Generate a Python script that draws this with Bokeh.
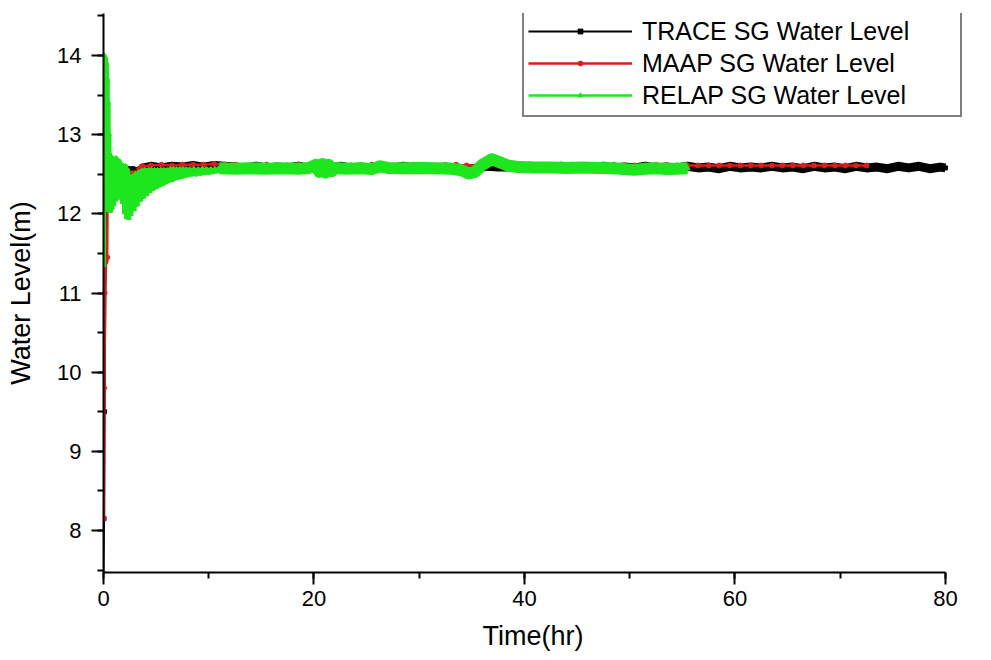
from bokeh.plotting import figure
from bokeh.models import Range1d, SingleIntervalTicker, Legend, LegendItem
from bokeh.embed import file_html
from bokeh.resources import INLINE

# ---------------- data ----------------
X_TICK_INTERVAL = 20
Y_TICK_INTERVAL = 1
X_AXIS_BOUNDS = (0, 80)
Y_AXIS_BOUNDS = (7.47, 14.53)

# TRACE SG water level (black)
TRACE_T = [0, 0.05, 0.1, 0.2, 0.3, 0.45, 0.7, 1.0, 1.5, 2.0, 2.4, 2.8, 3.2,
           3.5, 4.5, 5.5, 6.5, 7.5, 8.5, 9.5, 10.5, 11.5, 12.5,
           13.5, 14.5, 15.5, 16.5, 17.5, 18.5, 19.5, 20.5, 21.5, 22.5,
           23.5, 24.5, 25.5, 26.5, 27.5, 28.5, 29.5, 30.5, 31.5, 32.5,
           33.5, 34.5, 35.5, 36.5, 37.5, 38.5, 39.5, 40.5, 41.5, 42.5,
           43.5, 44.5, 45.5, 46.5, 47.5, 48.5, 49.5, 50.5, 51.5, 52.5,
           53.5, 54.5, 55.5, 56.5, 57.5, 58.5, 59.5, 60.5, 61.5, 62.5,
           63.5, 64.5, 65.5, 66.5, 67.5, 68.5, 69.5, 70.5, 71.5, 72.5,
           73.5, 74.5, 75.5, 76.5, 77.5, 78.5, 79.5, 80.0]
TRACE_Y = [7.45, 8.15, 9.5, 11.4, 12.4, 12.55, 12.62, 12.5, 12.58, 12.55, 12.57, 12.57, 12.56,
           12.57, 12.60, 12.58, 12.60, 12.59, 12.61, 12.59, 12.61, 12.60, 12.59,
           12.58, 12.60, 12.58, 12.59, 12.58, 12.60, 12.58, 12.59, 12.57, 12.60,
           12.58, 12.59, 12.57, 12.59, 12.58, 12.60, 12.58, 12.59, 12.58, 12.59,
           12.58, 12.56, 12.58, 12.60, 12.59, 12.59, 12.58, 12.60, 12.59, 12.58,
           12.60, 12.58, 12.59, 12.58, 12.60, 12.58, 12.59, 12.58, 12.60, 12.58,
           12.59, 12.58, 12.60, 12.58, 12.59, 12.57, 12.60, 12.58, 12.59, 12.58,
           12.60, 12.58, 12.59, 12.57, 12.60, 12.58, 12.59, 12.57, 12.60, 12.58,
           12.59, 12.57, 12.60, 12.58, 12.60, 12.57, 12.59, 12.58]

# MAAP SG water level (red)
MAAP_T = [0, 0.05, 0.1, 0.2, 0.35, 0.4, 0.5, 0.8, 1.2, 1.6, 2.0, 2.35, 2.45, 2.6,
          2.8, 3.0, 3.2, 3.4, 3.7,
          4.5, 5.5, 6.5, 7.5, 8.5, 9.5, 10.5, 11.5, 12.5, 13.5,
          14.5, 15.5, 16.5, 17.5, 18.5, 19.5, 20.5, 21.5, 22.5, 23.5,
          24.5, 25.5, 26.5, 27.5, 28.5, 29.5, 30.5, 31.5, 32.5, 33.5,
          34.5, 35.5, 36.5, 37.5, 38.5, 39.5, 40.5, 41.5, 42.5, 43.5,
          44.5, 45.5, 46.5, 47.5, 48.5, 49.5, 50.5, 51.5, 52.5, 53.5,
          54.5, 55.5, 56.5, 57.5, 58.5, 59.5, 60.5, 61.5, 62.5, 63.5,
          64.5, 65.5, 66.5, 67.5, 68.5, 69.5, 70.5, 71.5, 72.5]
MAAP_Y = [8.15, 9.8, 11.0, 11.4, 11.45, 12.4, 12.55, 12.6, 12.6, 12.58, 12.56, 12.52, 12.38, 12.5,
          12.46, 12.52, 12.5, 12.57, 12.6,
          12.61, 12.62, 12.61, 12.62, 12.62, 12.62, 12.63, 12.62, 12.62, 12.61,
          12.61, 12.62, 12.61, 12.61, 12.62, 12.61, 12.61, 12.62, 12.61, 12.61,
          12.61, 12.62, 12.61, 12.61, 12.61, 12.62, 12.61, 12.61, 12.61, 12.62,
          12.61, 12.61, 12.62, 12.61, 12.61, 12.61, 12.62, 12.61, 12.61, 12.61,
          12.62, 12.61, 12.61, 12.61, 12.62, 12.61, 12.61, 12.61, 12.62, 12.61,
          12.61, 12.61, 12.61, 12.61, 12.61, 12.61, 12.61, 12.61, 12.61, 12.61,
          12.61, 12.61, 12.61, 12.61, 12.61, 12.61, 12.61, 12.61, 12.61]

# RELAP SG water level (green)
RELAP_T = [0.00, 0.04, 0.08, 0.12, 0.16, 0.20, 0.24, 0.28, 0.32, 0.36,
           0.40, 0.44, 0.48, 0.52, 0.56, 0.60, 0.66, 0.72, 0.80, 0.88,
           0.96, 1.04, 1.12, 1.20, 1.28, 1.36, 1.44, 1.52, 1.60, 1.70,
           1.80, 1.90, 2.00, 2.10, 2.20, 2.30, 2.40, 2.50,
           2.60, 2.75, 2.90, 3.05, 3.20, 3.35, 3.50, 3.65, 3.80, 3.95,
           4.10, 4.25, 4.40, 4.55, 4.70, 4.85, 5.00, 5.15, 5.30, 5.45,
           5.60, 5.75, 5.90, 6.05, 6.20, 6.35, 6.50, 6.65, 6.80, 6.95,
           7.10, 7.25, 7.40, 7.55, 7.70, 7.85, 8.00, 8.20, 8.40, 8.60,
           8.80, 9.00, 9.20, 9.40, 9.60, 9.80, 10.0, 10.2, 10.4, 10.6, 10.8,
           11.0, 12.5, 14.0, 15.5, 17.0, 18.5, 19.5,
           20.2, 20.5, 20.8, 21.1, 21.4, 21.7, 22.0,
           23.0, 24.5, 25.5, 26.3, 27.0, 28.5, 30.0, 31.5, 33.0,
           34.0, 34.7, 35.3, 36.0, 36.9, 37.5, 38.4, 39.5,
           41.0, 42.5, 44.0, 45.5, 47.0, 48.5, 50.4, 51.5, 52.5, 53.5, 54.5, 55.5]
RELAP_Y = [11.35, 14.00, 12.30, 13.98, 12.20, 13.96, 12.25, 13.90, 12.10, 13.70,
           12.15, 13.40, 12.05, 13.00, 12.10, 12.75, 12.04, 12.68, 12.08, 12.70,
           12.12, 12.66, 12.18, 12.70, 12.20, 12.64, 12.22, 12.66, 12.25, 12.62,
           12.15, 12.60, 12.02, 12.60, 11.96, 12.55, 11.95, 12.45,
           12.00, 12.47, 12.06, 12.50, 12.12, 12.52, 12.18, 12.54, 12.22, 12.55,
           12.25, 12.55, 12.29, 12.55, 12.32, 12.55, 12.34, 12.55, 12.36, 12.55,
           12.38, 12.55, 12.40, 12.55, 12.42, 12.56, 12.43, 12.56, 12.45, 12.56,
           12.46, 12.56, 12.47, 12.56, 12.48, 12.56, 12.49, 12.56, 12.50, 12.56,
           12.50, 12.56, 12.51, 12.56, 12.52, 12.56, 12.52, 12.56, 12.53, 12.56, 12.54,
           12.575, 12.57, 12.575, 12.57, 12.575, 12.57, 12.58,
           12.62, 12.53, 12.63, 12.52, 12.62, 12.54, 12.58,
           12.57, 12.575, 12.565, 12.60, 12.58, 12.575, 12.58, 12.575, 12.57,
           12.55, 12.51, 12.53, 12.62, 12.69, 12.66, 12.61, 12.59,
           12.585, 12.585, 12.58, 12.585, 12.58, 12.575, 12.555, 12.57, 12.575, 12.565, 12.57, 12.575]

LABELS = ["TRACE SG Water Level", "MAAP SG Water Level", "RELAP SG Water Level"]
COLORS = ["#000000", "#dd1c1c", "#1ee61e"]

FONT = "Liberation Sans"

# ---------------- figure ----------------
# frame: 103..962 px horizontally (x axis itself drawn 0..80), 13..572 px vertically
p = figure(width=991, height=660, output_backend="svg", toolbar_location=None,
           x_range=Range1d(0, 81.62), y_range=Range1d(*Y_AXIS_BOUNDS),
           min_border_left=103, min_border_right=29,
           min_border_top=13, min_border_bottom=88)
p.outline_line_color = None
p.grid.visible = False
p.background_fill_color = "white"
p.border_fill_color = "white"

# black: thin trace with small squares, thick noisy band on the plateau
tr_line = p.line(TRACE_T, TRACE_Y, line_color=COLORS[0], line_width=2)
tr_t = [t for t in TRACE_T if t >= 3.5]
tr_y = [y for t, y in zip(TRACE_T, TRACE_Y) if t >= 3.5]
p.line(tr_t, tr_y, line_color=COLORS[0], line_width=9, line_join="round")
tr_mk = p.scatter(TRACE_T, TRACE_Y, marker="square", size=4, color=COLORS[0])

# red
ma_line = p.line(MAAP_T, MAAP_Y, line_color=COLORS[1], line_width=2.5)
ma_t = [t for t in MAAP_T if t <= 0.35]
ma_y = [y for t, y in zip(MAAP_T, MAAP_Y) if t <= 0.35]
p.line(ma_t, ma_y, line_color=COLORS[1], line_width=3.5)
ma_mk = p.scatter(MAAP_T, MAAP_Y, marker="circle", size=5, color=COLORS[1])

# green
re_line = p.line(RELAP_T, RELAP_Y, line_color=COLORS[2], line_width=2.5, line_join="round")
p.line(RELAP_T, RELAP_Y, line_color=COLORS[2], line_width=5, line_join="round")
rl_t = [t for t in RELAP_T if t >= 11.0]
rl_y = [y for t, y in zip(RELAP_T, RELAP_Y) if t >= 11.0]
p.line(rl_t, rl_y, line_color=COLORS[2], line_width=12, line_join="round")
re_mk = p.scatter(RELAP_T, RELAP_Y, marker="triangle", size=5, color=COLORS[2])

# axes
for ax in (p.xaxis[0], p.yaxis[0]):
    ax.axis_line_width = 2
    ax.axis_line_color = "black"
    ax.major_tick_line_width = 2
    ax.minor_tick_line_width = 2
    ax.major_tick_in = 0
    ax.minor_tick_in = 0
    ax.major_tick_out = 12
    ax.minor_tick_out = 6
    ax.major_label_text_font = FONT
    ax.major_label_text_font_size = "22px"
    ax.major_label_text_color = "black"
    ax.axis_label_text_font = FONT
    ax.axis_label_text_font_size = "27px"
    ax.axis_label_text_font_style = "normal"
    ax.axis_label_text_color = "black"

p.xaxis.bounds = X_AXIS_BOUNDS
p.yaxis.bounds = Y_AXIS_BOUNDS
p.xaxis.ticker = SingleIntervalTicker(interval=X_TICK_INTERVAL, num_minor_ticks=2)
p.yaxis.ticker = SingleIntervalTicker(interval=Y_TICK_INTERVAL, num_minor_ticks=2)
p.xaxis.axis_label = "Time(hr)"
p.yaxis.axis_label = "Water Level(m)"
p.xaxis.major_label_standoff = 6
p.yaxis.major_label_standoff = 10
p.xaxis.axis_label_standoff = 12
p.yaxis.axis_label_standoff = 18

# legend
items = [LegendItem(label=LABELS[0], renderers=[tr_line, tr_mk]),
         LegendItem(label=LABELS[1], renderers=[ma_line, ma_mk]),
         LegendItem(label=LABELS[2], renderers=[re_line, re_mk])]

legend = Legend(items=items, location=(419, 455))
legend.border_line_color = "black"
legend.border_line_width = 2
legend.background_fill_color = "white"
legend.background_fill_alpha = 1
legend.padding = 4
legend.spacing = 0
legend.margin = 0
legend.glyph_width = 104
legend.glyph_height = 12
legend.label_height = 32
legend.label_width = 314
legend.label_standoff = 10
legend.label_text_font = FONT
legend.label_text_font_size = "25px"
legend.label_text_color = "black"
p.add_layout(legend)

open("out.html", "w").write(file_html(p, INLINE))
